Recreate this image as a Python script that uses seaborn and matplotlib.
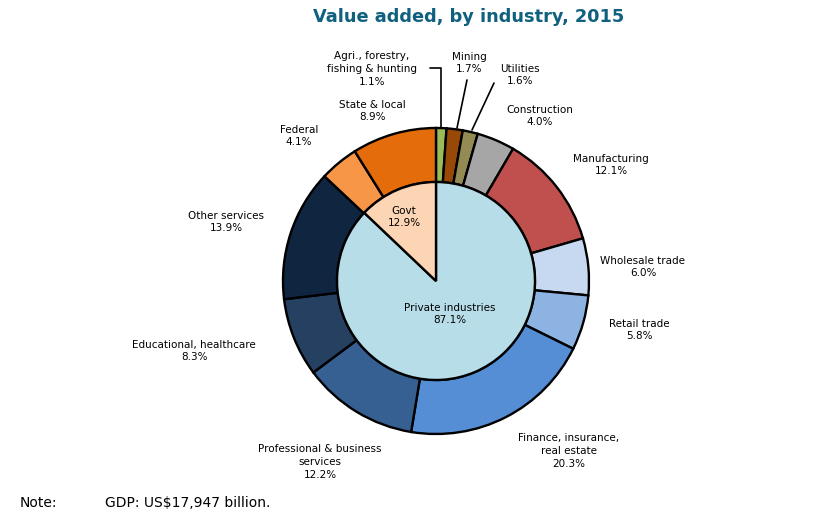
import matplotlib
matplotlib.use("Agg")
import matplotlib.pyplot as plt
import seaborn as sns

# outer ring: industries, clockwise from 12 o'clock
outer_names = ["Agri., forestry,\nfishing & hunting", "Mining", "Utilities", "Construction",
               "Manufacturing", "Wholesale trade", "Retail trade",
               "Finance, insurance,\nreal estate", "Professional & business\nservices",
               "Educational, healthcare", "Other services", "Federal", "State & local"]
outer_values = [1.1, 1.7, 1.6, 4.0, 12.1, 6.0, 5.8, 20.3, 12.2, 8.3, 13.9, 4.1, 8.9]

# inner pie: private vs government
inner_names = ["Private industries", "Govt"]
inner_values = [87.1, 12.9]

outer_colors = ["#9bbb59", "#984807", "#948a54", "#a6a6a6", "#c0504d", "#c6d9f1", "#8db3e2",
                "#558ed5", "#376092", "#254061", "#10253f", "#f79646", "#e46c0a"]
inner_colors = ["#b7dde8", "#fcd5b5"]

# label anchor points in pixels (x, y from top)
outer_label_pos = [(372, 69), (469, 63), (520, 75), (540, 116), (611, 165), (643, 267),
                   (639, 330), (569, 451), (320, 462), (194, 351), (226, 222), (299, 136),
                   (372, 111)]
inner_label_pos = [(450, 314), (404, 217)]
# leader lines for the thin slices (pixels)
leaders = {0: [(430, 68), (441, 68), (441, 128)],
           1: [(467, 80), (457, 128)],
           2: [(494, 83), (472, 130)]}

W, H = 825, 515
sns.set_theme(style="white")
plt.rcParams["font.family"] = ["DejaVu Sans"]

fig = plt.figure(figsize=(W / 100, H / 100), dpi=100)
ax = fig.add_axes([0, 0, 1, 1])

cx, cy = 436, H - 281
r_out, r_in = 153, 99
edge = dict(edgecolor="black", linewidth=1.7)

ax.pie(outer_values, colors=outer_colors, startangle=90, counterclock=False,
       center=(cx, cy), radius=r_out, normalize=True,
       wedgeprops=dict(width=r_out - r_in, **edge))
ax.pie(inner_values, colors=inner_colors, startangle=90, counterclock=False,
       center=(cx, cy), radius=r_in, normalize=True, wedgeprops=edge)

# pie() resets the limits, so set the pixel frame afterwards
ax.set_xlim(0, W)
ax.set_ylim(0, H)
ax.set_aspect("equal")
ax.axis("off")

txt = dict(ha="center", va="center", fontsize=7.5, color="black", linespacing=1.35)
for name, val, (x, y) in zip(outer_names, outer_values, outer_label_pos):
    ax.text(x, H - y, f"{name}\n{val:.1f}%", **txt)
for name, val, (x, y) in zip(inner_names, inner_values, inner_label_pos):
    ax.text(x, H - y, f"{name}\n{val:.1f}%", **txt)

for pts in leaders.values():
    ax.plot([p[0] for p in pts], [H - p[1] for p in pts], color="black", lw=1.2)

ax.text(469, H - 17, "Value added, by industry, 2015", ha="center", va="center",
        fontsize=12.8, fontweight="bold", color="#10607f")
ax.text(20, H - 503, "Note:", ha="left", va="center", fontsize=10, color="black")
ax.text(105, H - 503, "GDP: US$17,947 billion.", ha="left", va="center", fontsize=10,
        color="black")

fig.savefig("out.png", dpi=100)
